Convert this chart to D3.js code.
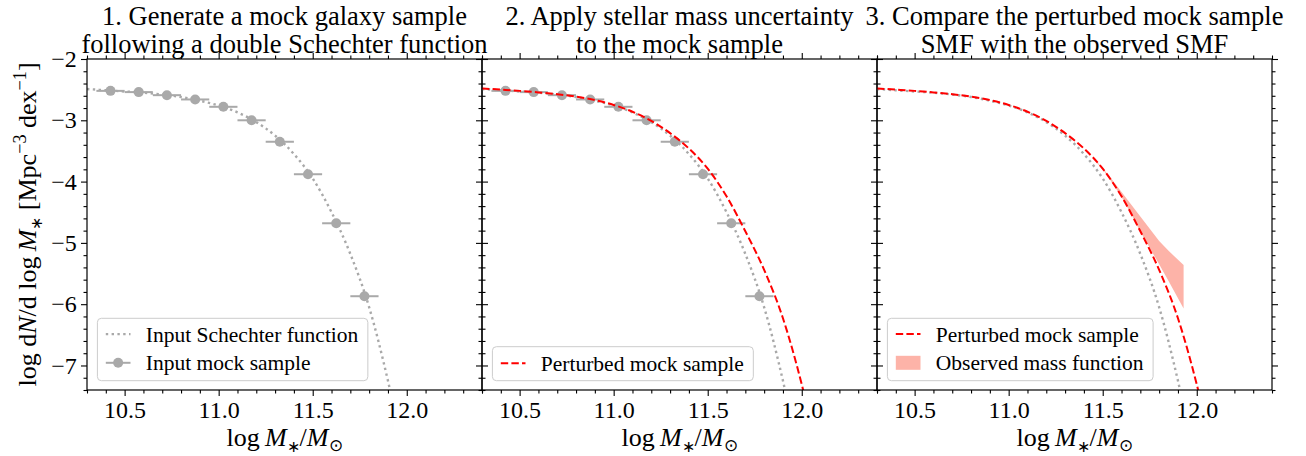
<!DOCTYPE html>
<html><head><meta charset="utf-8">
<script src="https://cdn.jsdelivr.net/npm/d3@7"></script>
<style>
body{margin:0;background:#fff}
svg text{font-family:"Liberation Serif","Times New Roman",serif;fill:#000}
</style>
</head><body>
<svg id="c" width="1306" height="456"></svg>
<script>
// ---------------- data ----------------
const schechterX = [10.3, 10.4, 10.5, 10.6, 10.7, 10.8, 10.9, 11.0, 11.1, 11.2, 11.3, 11.4, 11.5, 11.6, 11.7, 11.8, 11.9, 11.95];
const schechterY = [-2.49, -2.51, -2.53, -2.55, -2.58, -2.62, -2.68, -2.76, -2.87, -3.03, -3.25, -3.55, -3.95, -4.50, -5.18, -6.05, -7.25, -7.95];

const perturbedX = [10.3, 10.4, 10.5, 10.6, 10.7, 10.8, 10.9, 11.0, 11.1, 11.2, 11.3, 11.4, 11.5, 11.6, 11.7, 11.8, 11.9, 12.0, 12.05];
const perturbedY = [-2.48, -2.50, -2.52, -2.545, -2.575, -2.615, -2.67, -2.75, -2.86, -3.01, -3.21, -3.46, -3.79, -4.24, -4.81, -5.44, -6.23, -7.31, -7.95];

const mockX = [10.425, 10.575, 10.725, 10.875, 11.025, 11.175, 11.325, 11.475, 11.625, 11.775];
const mockY = [-2.52, -2.54, -2.59, -2.66, -2.78, -3.00, -3.35, -3.88, -4.68, -5.87];
const mockXerr = [0.075, 0.075, 0.075, 0.075, 0.075, 0.075, 0.075, 0.075, 0.075, 0.075];

const obsX  = [11.45, 11.5, 11.55, 11.6, 11.65, 11.7, 11.75, 11.8, 11.85, 11.93];
const obsHi = [-3.61, -3.78, -3.97, -4.17, -4.37, -4.57, -4.77, -4.97, -5.13, -5.36];
const obsLo = [-3.63, -3.80, -4.02, -4.25, -4.52, -4.82, -5.08, -5.35, -5.62, -6.07];

const xMajor = [10.5, 11.0, 11.5, 12.0];
const xMinor = [10.3, 10.4, 10.6, 10.7, 10.8, 10.9, 11.1, 11.2, 11.3, 11.4, 11.6, 11.7, 11.8, 11.9, 12.1, 12.2, 12.3, 12.4];
const yMajor = [-2, -3, -4, -5, -6, -7];
const yMinor = [-2.2, -2.4, -2.6, -2.8, -3.2, -3.4, -3.6, -3.8, -4.2, -4.4, -4.6, -4.8, -5.2, -5.4, -5.6, -5.8, -6.2, -6.4, -6.6, -6.8, -7.2, -7.4];

const titles = [
  ["1. Generate a mock galaxy sample", "following a double Schechter function"],
  ["2. Apply stellar mass uncertainty", "to the mock sample"],
  ["3. Compare the perturbed mock sample", "SMF with the observed SMF"]
];
const legendLabels = [
  ["Input Schechter function", "Input mock sample"],
  ["Perturbed mock sample"],
  ["Perturbed mock sample", "Observed mass function"]
];

// ---------------- layout ----------------
const svg = d3.select("#c");
const panelLeft = [87, 482, 877];
const topY = 59, pw = 395, ph = 331;
const GRAY = "#a9a9a9", RED = "#ff0000", BAND = "#fdb3a8";
const TICKFS = 24, TITLEFS = 26.5, LEGFS = 21.5, LABFS = 26;

const x = d3.scaleLinear().domain([10.3, 12.4]).range([0, pw]);
const y = d3.scaleLinear().domain([-7.4, -2]).range([ph, 0]);

const line = d3.line().x(d => x(d[0])).y(d => y(d[1])).curve(d3.curveMonotoneX);
const area = d3.area().x(d => x(d[0])).y0(d => y(d[1])).y1(d => y(d[2])).curve(d3.curveLinear);

const schechter = d3.zip(schechterX, schechterY);
const perturbed = d3.zip(perturbedX, perturbedY);
const mock = d3.zip(mockX, mockY, mockXerr);
const obs = d3.zip(obsX, obsLo, obsHi);

const defs = svg.append("defs");
defs.append("clipPath").attr("id", "clip").append("rect")
  .attr("x", 0).attr("y", 0).attr("width", pw).attr("height", ph);

function drawDotted(g) {
  g.append("path").datum(schechter).attr("d", line)
    .attr("fill", "none").attr("stroke", GRAY).attr("stroke-width", 2.4)
    .attr("stroke-dasharray", "2.4,3.4");
}
function drawRed(g) {
  g.append("path").datum(perturbed).attr("d", line)
    .attr("fill", "none").attr("stroke", RED).attr("stroke-width", 2)
    .attr("stroke-dasharray", "7.4,3.2");
}
function drawMock(g) {
  const m = g.append("g");
  m.selectAll("line").data(mock).join("line")
    .attr("x1", d => x(d[0] - d[2])).attr("x2", d => x(d[0] + d[2]))
    .attr("y1", d => y(d[1])).attr("y2", d => y(d[1]))
    .attr("stroke", GRAY).attr("stroke-width", 2);
  m.selectAll("circle").data(mock).join("circle")
    .attr("cx", d => x(d[0])).attr("cy", d => y(d[1])).attr("r", 5)
    .attr("fill", GRAY);
}
function drawBand(g) {
  g.append("path").datum(obs).attr("d", area).attr("fill", BAND).attr("stroke", "none");
}

function styleAxis(sel, fs) {
  sel.attr("font-family", null).attr("font-size", fs);
  sel.select(".domain").remove();
  sel.selectAll(".tick line").attr("stroke", "#000").attr("stroke-width", 1.1);
}

function legend(g, items) {
  const lg = g.append("g");
  const left = 10.4;
  const rowH = 28.7;
  const n = items.length;
  const hgt = n === 2 ? 62.4 : 34;
  const boxTop = ph - 9.3 - hgt;
  const box = lg.append("rect").attr("x", left).attr("y", boxTop)
    .attr("height", hgt).attr("rx", 4).attr("ry", 4)
    .attr("fill", "#fff").attr("fill-opacity", 0.8)
    .attr("stroke", "#cccccc").attr("stroke-width", 1);
  let maxW = 0;
  items.forEach((it, i) => {
    const cy = boxTop + (n === 2 ? 15.8 + i * rowH : 16.5);
    const hx0 = left + 8.4, hx1 = hx0 + 24.7;
    if (it.type === "dotted") {
      lg.append("line").attr("x1", hx0).attr("x2", hx1).attr("y1", cy).attr("y2", cy)
        .attr("stroke", GRAY).attr("stroke-width", 2.4).attr("stroke-dasharray", "2.4,3.4");
    } else if (it.type === "errpoint") {
      lg.append("line").attr("x1", hx0).attr("x2", hx1).attr("y1", cy).attr("y2", cy)
        .attr("stroke", GRAY).attr("stroke-width", 2);
      lg.append("circle").attr("cx", (hx0 + hx1) / 2).attr("cy", cy).attr("r", 5).attr("fill", GRAY);
    } else if (it.type === "dashed") {
      lg.append("line").attr("x1", hx0).attr("x2", hx1).attr("y1", cy).attr("y2", cy)
        .attr("stroke", RED).attr("stroke-width", 2).attr("stroke-dasharray", "7.4,3.2");
    } else if (it.type === "patch") {
      lg.append("rect").attr("x", hx0).attr("y", cy - 7).attr("width", hx1 - hx0).attr("height", 14)
        .attr("fill", BAND);
    }
    const t = lg.append("text").attr("x", left + 48.4).attr("y", cy + 7.5)
      .attr("font-size", LEGFS).text(it.label);
    maxW = Math.max(maxW, t.node().getComputedTextLength());
  });
  box.attr("width", 48.4 + maxW + 9.5);
}

const legendTypes = [["dotted", "errpoint"], ["dashed"], ["dashed", "patch"]];

for (let p = 0; p < 3; p++) {
  const g = svg.append("g").attr("transform", `translate(${panelLeft[p]},${topY})`);
  const plot = g.append("g").attr("clip-path", "url(#clip)");
  if (p === 2) drawBand(plot);
  drawDotted(plot);
  if (p < 2) drawMock(plot);
  if (p > 0) drawRed(plot);

  g.append("rect").attr("width", pw).attr("height", ph)
    .attr("fill", "none").attr("stroke", "#000").attr("stroke-width", 1.2);

  styleAxis(g.append("g").attr("transform", `translate(0,${ph})`)
    .call(d3.axisBottom(x).tickValues(xMajor).tickSize(6).tickSizeOuter(0).tickPadding(5)
      .tickFormat(d3.format(".1f"))), TICKFS);
  styleAxis(g.append("g").attr("transform", `translate(0,${ph})`)
    .call(d3.axisBottom(x).tickValues(xMinor).tickSize(3.5).tickSizeOuter(0).tickFormat("")), TICKFS);
  styleAxis(g.append("g").call(d3.axisTop(x).tickValues(xMajor).tickSize(6).tickSizeOuter(0).tickFormat("")), TICKFS);
  styleAxis(g.append("g").call(d3.axisTop(x).tickValues(xMinor).tickSize(3.5).tickSizeOuter(0).tickFormat("")), TICKFS);
  styleAxis(g.append("g").call(d3.axisLeft(y).tickValues(yMajor).tickSize(6).tickSizeOuter(0).tickPadding(4.3)
    .tickFormat(p === 0 ? d3.format("d") : "")), TICKFS);
  styleAxis(g.append("g").call(d3.axisLeft(y).tickValues(yMinor).tickSize(3.5).tickSizeOuter(0).tickFormat("")), TICKFS);
  styleAxis(g.append("g").attr("transform", `translate(${pw},0)`)
    .call(d3.axisRight(y).tickValues(yMajor).tickSize(6).tickSizeOuter(0).tickFormat("")), TICKFS);
  styleAxis(g.append("g").attr("transform", `translate(${pw},0)`)
    .call(d3.axisRight(y).tickValues(yMinor).tickSize(3.5).tickSizeOuter(0).tickFormat("")), TICKFS);

  legend(g, legendTypes[p].map((t, i) => ({type: t, label: legendLabels[p][i]})));

  const cx = pw / 2;
  g.append("text").attr("x", cx).attr("y", 25 - topY).attr("text-anchor", "middle")
    .attr("font-size", TITLEFS).text(titles[p][0]);
  g.append("text").attr("x", cx).attr("y", 52.5 - topY).attr("text-anchor", "middle")
    .attr("font-size", TITLEFS).text(titles[p][1]);

  const xl = g.append("text").attr("x", cx).attr("y", 446 - topY).attr("text-anchor", "middle")
    .attr("font-size", LABFS);
  xl.append("tspan").text("log\u2009");
  xl.append("tspan").attr("font-style", "italic").text("M");
  xl.append("tspan").attr("font-size", LABFS * 0.6).attr("dy", 6).text("\u2217");
  xl.append("tspan").attr("dy", -6).text("/");
  xl.append("tspan").attr("font-style", "italic").text("M");
  xl.append("tspan").attr("font-size", LABFS * 0.65).attr("dy", 5).text("\u2299");
}

const yl = svg.append("text").attr("transform", `translate(36,${topY + ph / 2}) rotate(-90)`)
  .attr("text-anchor", "middle").attr("font-size", LABFS);
yl.append("tspan").text("log d");
yl.append("tspan").attr("font-style", "italic").text("N");
yl.append("tspan").text("/d log\u2009");
yl.append("tspan").attr("font-style", "italic").text("M");
yl.append("tspan").attr("font-size", LABFS * 0.6).attr("dy", 6).text("\u2217");
yl.append("tspan").attr("dy", -6).text(" [Mpc");
yl.append("tspan").attr("font-size", LABFS * 0.7).attr("dy", -10).text("\u22123");
yl.append("tspan").attr("dy", 10).text(" dex");
yl.append("tspan").attr("font-size", LABFS * 0.7).attr("dy", -10).text("\u22121");
yl.append("tspan").attr("dy", 10).text("]");
</script>
</body></html>
